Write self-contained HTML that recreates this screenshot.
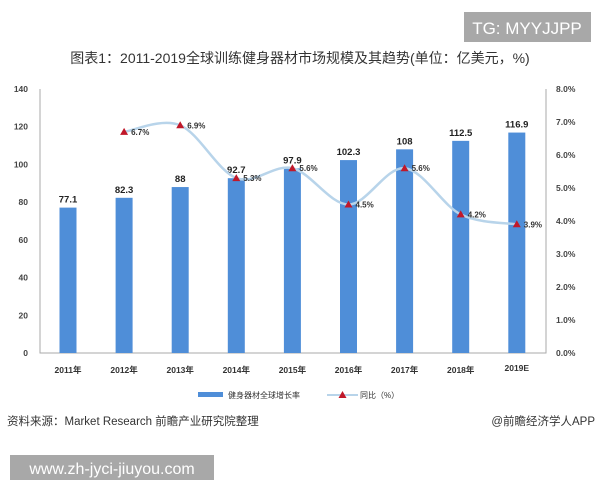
<!DOCTYPE html>
<html><head><meta charset="utf-8"><style>
body{margin:0;background:#fff;width:600px;height:480px;overflow:hidden;font-family:"Liberation Sans","Noto Sans CJK SC",sans-serif}
svg{position:absolute;left:0;top:0}
</style></head><body>
<svg width="600" height="480">
<rect x="464" y="12" width="127" height="30" fill="#a8a8a8"/>
<text x="527" y="34" text-anchor="middle" font-size="17" fill="#fff">TG: MYYJJPP</text>
<text x="300" y="63" text-anchor="middle" font-size="14" fill="#333">图表1：2011-2019全球训练健身器材市场规模及其趋势(单位：亿美元，%)</text>
<g id="axes"></g><g id="bars"></g><g id="line"></g>
<g>
<rect x="198" y="392" width="25" height="5" fill="#4f8ed8"/>
<text x="228" y="398" font-size="8" fill="#333">健身器材全球增长率</text>
<line x1="327" y1="395" x2="358" y2="395" stroke="#b8d4ea" stroke-width="2"/>
<path d="M342.5,391 L346.5,398 L338.5,398Z" fill="#c0182a"/>
<text x="360" y="398" font-size="8" fill="#333">同比（%）</text>
</g>
<text x="7" y="425" font-size="11.5" fill="#333">资料来源：Market Research 前瞻产业研究院整理</text>
<text x="595" y="425" text-anchor="end" font-size="11.5" fill="#333">@前瞻经济学人APP</text>
<rect x="10" y="455" width="204" height="25" fill="#a8a8a8"/>
<text x="112" y="474" text-anchor="middle" font-size="16" fill="#fff">www.zh-jyci-jiuyou.com</text>
</svg>
<script>
const categories=["2011年","2012年","2013年","2014年","2015年","2016年","2017年","2018年","2019E"];
const sizes=[77.1,82.3,88,92.7,97.9,102.3,108,112.5,116.9];
const growth=[null,6.7,6.9,5.3,5.6,4.5,5.6,4.2,3.9];
const leftTicks=[0,20,40,60,80,100,120,140];
const rightTicks=[0,1,2,3,4,5,6,7,8];
const NS="http://www.w3.org/2000/svg";
const x0=40,x1=546,yB=353,yT=89;
const yL=v=>yB-(v/140)*(yB-yT);
const yR=v=>yB-(v/8)*(yB-yT);
const xC=i=>68+i*56.1;
function mk(t,a,p){const e=document.createElementNS(NS,t);for(const k in a)e.setAttribute(k,a[k]);p.appendChild(e);return e;}
const ax=document.getElementById('axes'),bg=document.getElementById('bars'),lg=document.getElementById('line');
let f=mk('path',{d:`M${x0},${yT} L${x0},${yB} L${x1},${yB} L${x1},${yT}`,fill:'none',stroke:'#aaa','stroke-width':1},ax);


leftTicks.forEach(v=>{const t=mk('text',{x:28,y:yL(v)+3,'text-anchor':'end','font-size':8.5,'font-weight':'bold',fill:'#444'},ax);t.textContent=v;

});
rightTicks.forEach(v=>{const t=mk('text',{x:556,y:yR(v)+3,'font-size':8.5,'font-weight':'bold',fill:'#444'},ax);t.textContent=v.toFixed(1)+'%';

});
categories.forEach((c,i)=>{const t=mk('text',{x:xC(i),y:i==8?371:373,'text-anchor':'middle','font-size':8.5,'font-weight':'bold',fill:'#333'},ax);t.textContent=c;

});
sizes.forEach((v,i)=>{const r=mk('rect',{x:xC(i)-8.5,y:yL(v),width:17,height:yB-yL(v),fill:'#4f8ed8'},bg);


const t=mk('text',{x:xC(i),y:yL(v)-5,'text-anchor':'middle','font-size':9.5,'font-weight':'bold',fill:'#222'},bg);t.textContent=v;

});
const pts=[];growth.forEach((v,i)=>{if(v!==null)pts.push([xC(i),yR(v),v]);});
let d=`M${pts[0][0]},${pts[0][1]}`;
for(let i=0;i<pts.length-1;i++){const p0=pts[Math.max(i-1,0)],p1=pts[i],p2=pts[i+1],p3=pts[Math.min(i+2,pts.length-1)];
d+=` C${p1[0]+(p2[0]-p0[0])/6},${p1[1]+(p2[1]-p0[1])/6} ${p2[0]-(p3[0]-p1[0])/6},${p2[1]-(p3[1]-p1[1])/6} ${p2[0]},${p2[1]}`;}
const ln=mk('path',{d:d,fill:'none',stroke:'#b8d4ea','stroke-width':2.5},lg);


pts.forEach(p=>{const m=mk('path',{d:`M${p[0]},${p[1]-4} L${p[0]+4},${p[1]+3} L${p[0]-4},${p[1]+3}Z`,fill:'#c0182a'},lg);


const t=mk('text',{x:p[0]+7,y:p[1]+3,'font-size':8,'font-weight':'bold',fill:'#333'},lg);t.textContent=p[2].toFixed(1)+'%';

});
</script>
</body></html>
